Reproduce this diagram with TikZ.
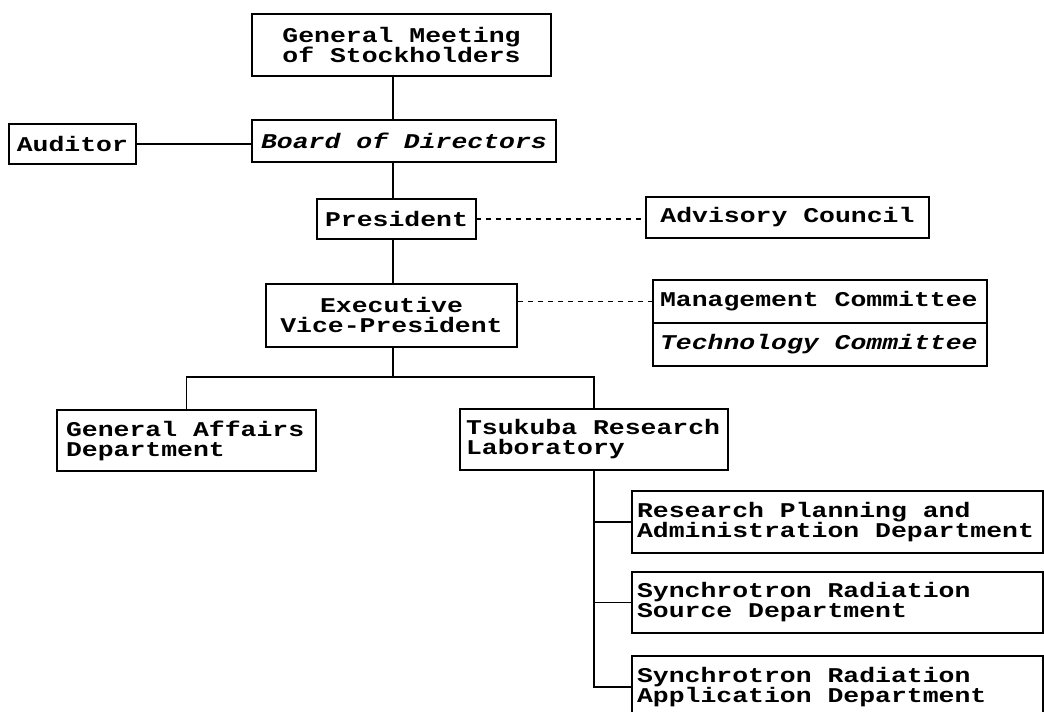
\documentclass[tikz,border=0pt]{standalone}
\usepackage{fontspec}
\setmonofont[FakeStretch=1.26]{Liberation Mono}
\usepackage{tikz}
\usetikzlibrary{positioning,calc}
\tikzset{
  bloc/.style     = {draw, line width=1.1pt, align=center, inner xsep=4pt, inner ysep=2pt,
                     outer sep=0pt, font=\ttfamily\bfseries\fontsize{10.5}{10}\selectfont},
  sectie/.style   = {bloc, align=flush left, inner xsep=4.5pt, text width=#1},
  legatura/.style = {line width=0.9pt},
  punctat/.style  = {line width=0.9pt, dash pattern=on 2.5pt off 2.5pt}
}
\begin{document}
\begin{tikzpicture}[x=1pt, y=1pt]
        \useasboundingbox (0,0) rectangle (522,356);
        \clip (0,0) rectangle (522,356);
        \node[bloc, minimum width=149.5pt, minimum height=31pt] (gm) at (200.75,333.5) {General Meeting\\ of Stockholders};
        \node[bloc, minimum width=152pt, minimum height=21pt, below=22pt of gm, xshift=1.25pt] (bod) {\itshape Board of Directors};
        \node[bloc, minimum width=62pt, minimum height=20pt, left=58pt of bod, yshift=-1.5pt] (aud) {Auditor};
        \node[bloc, minimum width=79.5pt, minimum height=20pt, below=18.5pt of bod, xshift=-3.75pt] (pres) {President};
        \node[bloc, minimum width=141.5pt, minimum height=20.5pt, right=85pt of pres, yshift=0.75pt] (adv) {Advisory Council};
        \node[bloc, minimum width=125.5pt, minimum height=31.5pt, below=22.5pt of pres, xshift=-2.5pt] (evp) {Executive\\ Vice-President};
        \node[sectie=160pt, inner xsep=3.5pt, minimum height=21.5pt, right=68pt of evp, yshift=7pt] (mgmt) {Management Committee};
        \node[sectie=160pt, inner xsep=3.5pt, minimum height=21.5pt, below=0pt of mgmt] (tech) {\itshape Technology Committee};
        \node[sectie=120.5pt, minimum height=30.5pt, below=31.5pt of evp, xshift=-102.5pt] (ga) {General Affairs\\ Department};
        \node[sectie=128pt, inner xsep=3pt, minimum height=30.5pt, right=72pt of ga, yshift=0.5pt] (lab) {Tsukuba Research\\ Laboratory};
        \node[sectie=200.5pt, inner xsep=2.5pt, minimum height=31pt, below right=10.5pt and 19pt of lab.south] (rp) {Research Planning and\\ Administration Department};
        \node[sectie=200.5pt, inner xsep=2.5pt, minimum height=30.5pt, below=9.5pt of rp] (srs) {Synchrotron Radiation\\ Source Department};
        \node[sectie=200.5pt, inner xsep=2.5pt, minimum height=31pt, below=11.5pt of srs] (sra) {Synchrotron Radiation\\ Application Department};

        \coordinate (axa) at ($(pres.south)+(-1.75pt,0)$);
        \coordinate (bara) at ($(evp.south -| axa)+(0,-15pt)$);

        \draw[legatura] (gm.south -| axa) -- (bod.north -| axa);
        \draw[legatura] (bod.south -| axa) -- (pres.north -| axa);
        \draw[legatura] (pres.south -| axa) -- (evp.north -| axa);
        \draw[legatura] (evp.south -| axa) -- (bara);
        \draw[legatura] (ga.north) |- (bara) -| (lab.north);
        \draw[legatura] (aud.east) -- (aud.east -| bod.west);
        \draw[punctat] (pres.east) -- (pres.east -| adv.west);
        \draw[punctat] (mgmt.west) -- (mgmt.west -| evp.east);
        \draw[legatura] (lab.south) |- (sra.west);
        \draw[legatura] (rp.west) -- (rp.west -| lab.south);
        \draw[legatura] (srs.west) -- (srs.west -| lab.south);
    \end{tikzpicture}
\end{document}
